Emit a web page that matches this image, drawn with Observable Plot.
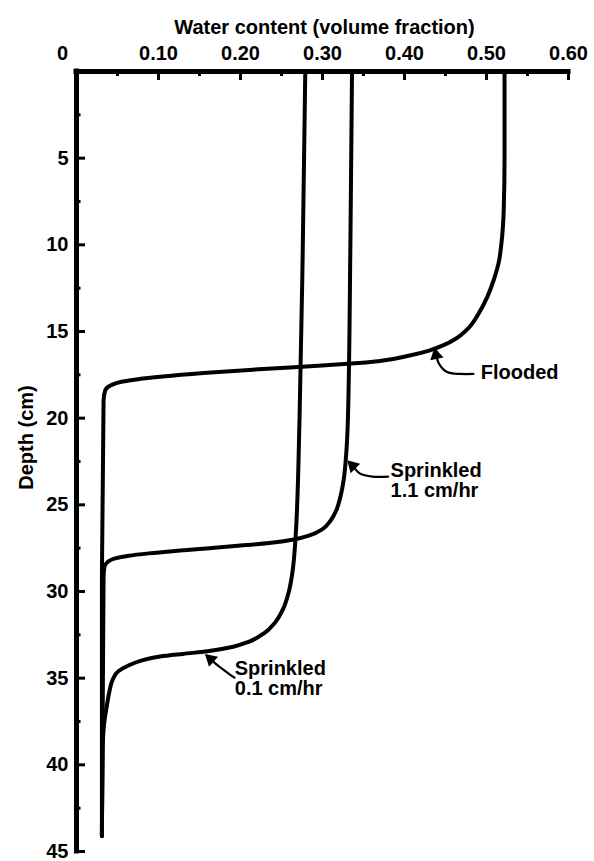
<!DOCTYPE html>
<html>
<head>
<meta charset="utf-8">
<script src="https://cdn.jsdelivr.net/npm/d3@7"></script>
<script src="https://cdn.jsdelivr.net/npm/@observablehq/plot@0.6"></script>
<style>
  html, body { margin: 0; padding: 0; background: #fff; }
  #chart svg { display: block; }
</style>
</head>
<body>
<div id="chart"></div>
<script>
// ---- Data ----
const floodedDepth = [0, 5, 8, 10, 11, 12, 13, 14, 14.8, 15.4, 15.8, 16.1, 16.4, 16.7, 16.85, 17.0, 17.2, 17.4, 17.6, 17.75, 17.9, 18.1, 18.4, 19, 30, 44.1];
const floodedWater = [0.522, 0.522, 0.521, 0.518, 0.515, 0.509, 0.501, 0.49, 0.478, 0.463, 0.447, 0.43, 0.405, 0.37, 0.335, 0.285, 0.215, 0.155, 0.105, 0.075, 0.055, 0.042, 0.035, 0.033, 0.031, 0.031];

const sprinkled11Depth = [0, 10, 20, 22, 23.5, 24.5, 25.3, 25.9, 26.4, 26.75, 27.0, 27.2, 27.35, 27.5, 27.65, 27.8, 27.95, 28.1, 28.3, 28.6, 29.2, 44.1];
const sprinkled11Water = [0.336, 0.334, 0.331, 0.329, 0.326, 0.322, 0.317, 0.31, 0.3, 0.285, 0.265, 0.235, 0.2, 0.162, 0.123, 0.088, 0.062, 0.046, 0.038, 0.034, 0.033, 0.031];

const sprinkled01Depth = [0, 10, 20, 27, 29, 30, 31, 31.8, 32.4, 32.9, 33.2, 33.45, 33.6, 33.75, 34.0, 34.3, 34.6, 35.1, 35.8, 36.6, 37.5, 39, 44.1];
const sprinkled01Water = [0.279, 0.276, 0.272, 0.267, 0.263, 0.259, 0.252, 0.242, 0.229, 0.21, 0.19, 0.16, 0.13, 0.102, 0.078, 0.062, 0.051, 0.044, 0.04, 0.037, 0.034, 0.032, 0.031];

const xMajorTicks = [0.1, 0.2, 0.3, 0.4, 0.5, 0.6];
const xMinorTicks = [0.05, 0.15, 0.25, 0.35, 0.45, 0.55];
const yMajorTicks = [5, 10, 15, 20, 25, 30, 35, 40, 45];
const yMinorTicks = [2.5, 7.5, 12.5, 17.5, 22.5, 27.5, 32.5, 37.5, 42.5];

const xTitle = "Water content (volume fraction)";
const yTitle = "Depth (cm)";

const labelTexts = ["Flooded", "Sprinkled\n1.1 cm/hr", "Sprinkled\n0.1 cm/hr"];
const labelWater = [0.493, 0.383, 0.193];
const labelDepth = [17.35, 23.58, 35.0];

// annotation arrows (data space): path points and arrowheads
const arrowFloodedWater = [0.484, 0.468, 0.452, 0.442, 0.439];
const arrowFloodedDepth = [17.45, 17.45, 17.34, 16.85, 16.4];
const arrow11Water = [0.380, 0.361, 0.346, 0.3375];
const arrow11Depth = [23.37, 23.37, 23.2, 22.78];
const arrow01Water = [0.1927, 0.1805, 0.1695, 0.1645];
const arrow01Depth = [34.97, 34.56, 34.16, 33.93];
const headWater = [0.4385, 0.3368, 0.1636];
const headDepth = [16.36, 22.74, 33.9];
const headAngle = [-12, -45, -48];

// ---- Build tables ----
const series = [
  {name: "Flooded", depth: floodedDepth, water: floodedWater},
  {name: "Sprinkled 1.1 cm/hr", depth: sprinkled11Depth, water: sprinkled11Water},
  {name: "Sprinkled 0.1 cm/hr", depth: sprinkled01Depth, water: sprinkled01Water}
];
const rows = series.flatMap(s => s.depth.map((d, i) => ({series: s.name, depth: d, water: s.water[i]})));

const arrows = [
  {id: "f", w: arrowFloodedWater, d: arrowFloodedDepth},
  {id: "a", w: arrow11Water, d: arrow11Depth},
  {id: "b", w: arrow01Water, d: arrow01Depth}
].flatMap(a => a.w.map((w, i) => ({id: a.id, water: w, depth: a.d[i]})));
const heads = headWater.map((w, i) => ({water: w, depth: headDepth[i], angle: headAngle[i]}));
const labels = labelTexts.map((t, i) => ({text: t, water: labelWater[i], depth: labelDepth[i]}));

const W = 594, H = 861;
const mL = 76, mR = 26, mT = 71, mB = 10;
const innerW = W - mL - mR, innerH = H - mT - mB;
const FONT = "'Liberation Sans', Arial, Helvetica, sans-serif";
const FS = 20;

const chart = Plot.plot({
  width: W,
  height: H,
  marginLeft: mL,
  marginRight: mR,
  marginTop: mT,
  marginBottom: mB,
  x: {domain: [0, 0.6]},
  y: {domain: [0, 45], reverse: true},
  style: {fontFamily: FONT, fontWeight: "bold", fontSize: FS + "px", color: "#000", background: "#fff"},
  marks: [
    // tick marks (inward)
    Plot.tickX(xMajorTicks, {x: d => d, insetBottom: innerH - 9, strokeWidth: 3, stroke: "#000"}),
    Plot.tickX(xMinorTicks, {x: d => d, insetBottom: innerH - 5, strokeWidth: 3, stroke: "#000"}),
    Plot.tickY(yMajorTicks, {y: d => d, insetRight: innerW - 9, strokeWidth: 3, stroke: "#000"}),
    Plot.tickY(yMinorTicks, {y: d => d, insetRight: innerW - 4.5, strokeWidth: 3, stroke: "#000"}),
    // frame lines
    Plot.ruleX([0], {strokeWidth: 5, stroke: "#000", strokeLinecap: "square"}),
    Plot.ruleY([0], {strokeWidth: 5, stroke: "#000", strokeLinecap: "square"}),
    // tick labels
    Plot.axisX({anchor: "top", ticks: xMajorTicks, tickSize: 0, tickPadding: 12, tickFormat: d3.format(".2f"), label: null, fontSize: FS, fontWeight: "bold"}),
    Plot.axisX({anchor: "top", ticks: [0], tickSize: 0, tickPadding: 12, tickFormat: () => "0", label: null, dx: -14, fontSize: FS, fontWeight: "bold"}),
    Plot.axisY({anchor: "left", ticks: yMajorTicks, tickSize: 0, tickPadding: 8, tickFormat: d => String(d), label: null, fontSize: FS, fontWeight: "bold"}),
    // data curves
    Plot.line(rows, {x: "water", y: "depth", z: "series", curve: "monotone-y", stroke: "#000", strokeWidth: 4, strokeLinejoin: "round"}),
    // annotations
    Plot.line(arrows, {x: "water", y: "depth", z: "id", curve: "catmull-rom", stroke: "#000", strokeWidth: 2.2}),
    Plot.dot(heads, {x: "water", y: "depth", rotate: "angle", symbol: "triangle", r: 5, fill: "#000", stroke: "none"}),
    Plot.text(labels, {x: "water", y: "depth", text: "text", textAnchor: "start", lineHeight: 1.0, fontSize: FS, fontWeight: "bold", fill: "#000"}),
    // titles
    Plot.text([xTitle], {frameAnchor: "top", textAnchor: "middle", dy: -52, dx: 2, fontSize: FS, fontWeight: "bold", fill: "#000"}),
    Plot.text([yTitle], {frameAnchor: "left", textAnchor: "middle", rotate: -90, dx: -50, dy: -24, fontSize: FS, fontWeight: "bold", fill: "#000"})
  ]
});

document.getElementById("chart").appendChild(chart);
</script>
</body>
</html>
